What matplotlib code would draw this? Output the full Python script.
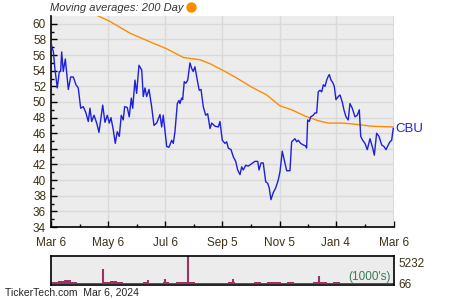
import pandas as pd
import matplotlib
matplotlib.use("Agg")
import matplotlib.pyplot as plt
import matplotlib.dates as mdates

plt.rcParams["font.family"] = ["Liberation Sans", "DejaVu Sans"]

START = pd.Timestamp("2023-03-06")

# ---- price (days since Mar 6, 2023) ----
price_days = [0, 1.1, 2.5, 4.3, 6.7, 8.9, 10.3, 11.4, 13.1, 15.3, 18.5, 21.0, 23.8, 26.7, 29.1,
              31.7, 34.5, 37.3, 39.8, 41.6, 43.4, 45.9, 48.8, 51.2, 55.2, 57.6, 60.1, 62.2, 64.0,
              66.5, 68.6, 70.7, 72.9, 75.0, 77.1, 78.6, 81.4, 83.5, 85.7, 87.2, 89.6, 91.4, 93.9,
              96.8, 98.5, 100.3, 102.1, 104.6, 107.4, 109.9, 112.8, 116.3, 118.1, 119.8, 123.5,
              125.9, 128.8, 130.5, 132.3, 134.8, 136.6, 137.6, 139.4, 140.5, 142.2, 144.0, 145.9,
              148.3, 150.1, 151.8, 153.6, 156.1, 158.2, 160.1, 162.5, 165.1, 167.2, 169.7, 171.5,
              175.0, 178.5, 180.3, 182.8, 185.7, 187.5, 189.2, 192.1, 194.5, 197.1, 199.2, 201.7,
              203.5, 205.2, 207.8, 210.5, 214.2, 217.7, 220.6, 222.0, 224.1, 226.5, 229.1, 231.2,
              232.9, 234.7, 237.2, 239.8, 242.5, 244.4, 246.8, 248.9, 251.5, 255.0, 256.8, 260.3,
              262.2, 263.9, 266.4, 269.2, 271.3, 272.8, 273.9, 275.6, 277.1, 279.9, 281.7, 283.5,
              285.2, 287.0, 288.9, 290.6, 292.4, 294.2, 295.9, 297.0, 298.8, 300.6, 302.3, 304.1,
              306.6, 308.4, 310.8, 312.6, 314.8, 317.2, 319.0, 321.5, 324.4, 326.8, 329.0, 330.5,
              332.6, 335.1, 337.5, 340.4, 343.3, 345.0, 347.5, 350.0, 352.9, 355.3, 357.5, 359.9,
              361.7, 363.5, 365.2]
price = [57.8, 56.9, 56.5, 54.1, 51.8, 53.9, 53.9, 56.4, 53.9, 55.5, 51.6, 53.2, 53.2, 52.2, 51.8,
         49.2, 49.4, 48.6, 47.5, 49.2, 47.5, 48.3, 47.3, 46.1, 49.6, 47.4, 48.3, 47.3, 48.0,
         46.4, 44.7, 46.2, 45.6, 48.3, 47.7, 49.4, 49.3, 48.1, 50.5, 49.2, 52.8, 51.1, 54.7,
         54.1, 50.7, 51.8, 50.7, 51.6, 49.4, 47.0, 47.3, 48.4, 46.8, 48.3, 44.3,
         44.2, 45.1, 44.7, 46.2, 49.8, 50.2, 49.8, 50.5, 50.3, 52.6, 52.4, 52.8,
         55.0, 54.3, 53.9, 54.5, 52.8, 51.5, 51.6, 49.4, 48.3, 48.5, 46.6, 47.3,
         46.9, 46.8, 47.5, 45.1, 44.7, 44.9, 44.1, 43.9, 43.0, 42.4, 41.3, 40.7,
         41.7, 41.3, 41.9, 41.8, 42.1, 42.4, 42.4, 41.3, 42.2, 42.2, 39.8, 39.6,
         39.0, 37.5, 38.4, 39.0, 40.0, 41.1, 43.7, 42.6, 41.2, 41.2, 44.9, 45.3,
         44.9, 45.1, 44.7, 44.5, 44.4, 44.1, 47.7, 47.5, 48.1, 48.3, 48.6, 48.6,
         51.3, 51.5, 51.3, 52.2, 52.0, 52.8, 53.3, 53.5, 52.8, 52.5, 52.0, 50.3,
         50.7, 50.9, 50.0, 49.0, 48.1, 47.7, 49.8, 49.2, 48.1, 48.3, 49.0, 45.6,
         45.1, 44.7, 43.9, 45.3, 44.1, 43.2, 46.0, 45.6, 44.5, 44.3, 43.9, 44.5,
         44.9, 45.1, 46.6]

# ---- 200 day moving average ----
ma_days = [47, 63.0, 84.3, 105.6, 123.5, 141.2, 159.0, 169.7, 185.7, 196.3, 214.2, 230.2,
           244.4, 256.8, 271.0, 285.2, 295.9, 310.2, 320.9, 342.2, 365.2]
ma200 = [61.2, 60.3, 58.8, 57.7, 56.8, 55.7, 55.4, 54.9, 53.9, 53.2, 51.9, 50.9,
         49.5, 49.0, 48.2, 47.6, 47.3, 47.3, 47.2, 46.9, 46.8]

# ---- volume (1000's), weekly + a few single-day spikes ----
vol_days = list(range(0, 365, 7))
vol = [350, 700, 850, 350, 250, 250, 300, 300, 450, 700, 400, 300, 300, 250, 350, 300, 300,
       350, 300, 350, 450, 500, 300, 300, 250, 300, 250, 350, 300, 300, 250, 350, 300, 450,
       350, 300, 350, 300, 250, 300, 350, 500, 300, 350, 300, 300, 250, 300, 300, 250, 300,
       250, 300]
spike_days = [55, 104, 122, 146, 194, 286]
spike_vol = [3670, 950, 1150, 7500, 1190, 1930]

tick_dates = ["2023-03-06", "2023-05-06", "2023-07-06", "2023-09-05",
              "2023-11-05", "2024-01-04", "2024-03-06"]
tick_labels = ["Mar 6", "May 6", "Jul 6", "Sep 5", "Nov 5", "Jan 4", "Mar 6"]


def to_dates(days):
    return START + pd.to_timedelta(days, unit="D")


BG = "#ececec"
GRID = "#d9d9d9"
TXT = "#3d3015"
BLUE = "#1f1fdc"
ORANGE = "#ff8c00"
VOLC = "#993366"

fig = plt.figure(figsize=(4.5, 3), dpi=100)
ax = fig.add_axes([0.1133, 0.2433, 0.7622, 0.7033])
axv = fig.add_axes([0.1133, 0.05, 0.7622, 0.0967])

ticks = pd.to_datetime(tick_dates)
minor = ticks[:-1] + (ticks[1:] - ticks[:-1]) / 2
x0, x1 = ticks[0], ticks[-1]

# main price panel
ax.set_facecolor(BG)
ax.plot(to_dates(ma_days), ma200, color=ORANGE, lw=1.0, zorder=3)
ax.plot(to_dates(price_days), price, color=BLUE, lw=1.0, zorder=4)
ax.set_xlim(x0, x1)
ax.set_ylim(34, 61)
ax.set_yticks(range(34, 61, 2))
ax.set_yticks(range(35, 61, 2), minor=True)
ax.set_xticks(ticks)
ax.set_xticklabels(tick_labels)
ax.set_xticks(minor, minor=True)
ax.grid(True, which="major", color=GRID, lw=1.0)
ax.set_axisbelow(True)
for s in ["top", "right"]:
    ax.spines[s].set_visible(False)
for s in ["left", "bottom"]:
    ax.spines[s].set_color("black")
    ax.spines[s].set_linewidth(1.2)
ax.tick_params(axis="both", which="major", direction="in", length=4, width=1,
               labelsize=8.5, labelcolor=TXT)
ax.tick_params(axis="both", which="minor", direction="in", length=2.5, width=1)
ax.tick_params(axis="x", pad=7)
ax.axvline(x1, color=GRID, lw=1.2)

ax.text(1.005, (price[-1] - 34) / 27, "CBU", transform=ax.transAxes,
        color=BLUE, fontsize=9.5, va="center", ha="left")
fig.text(0.111, 0.972, "Moving averages: 200 Day", fontsize=8, style="italic",
         color="#333333", ha="left", va="center")
ax.plot([0.424], [0.976], transform=fig.transFigure, marker="o", markersize=6.5,
        color=ORANGE, clip_on=False)

# volume panel
axv.set_facecolor(BG)
axv.bar(to_dates(vol_days), vol, width=7, bottom=0, color=VOLC, align="edge", lw=0)
axv.vlines(to_dates(spike_days), 0, spike_vol, color=VOLC, lw=1.5)
axv.set_xlim(x0, x1)
axv.set_ylim(-300, 6900)
axv.set_xticks([])
axv.yaxis.tick_right()
axv.set_yticks([66, 5232])
axv.set_yticklabels(["66", "5232"])
axv.tick_params(axis="y", length=0, labelsize=8.5, labelcolor=TXT, pad=3)
for s in axv.spines.values():
    s.set_color("black")
    s.set_linewidth(1.2)
axv.text(0.99, 0.08, "(1000's)", transform=axv.transAxes, color="#3c7a5a",
         fontsize=8.5, ha="right", va="bottom")

fig.text(0.012, 0.025, "TickerTech.com  Mar 6, 2024", fontsize=7.5, color="#222222",
         ha="left", va="center")

fig.savefig("out.png", dpi=100)
